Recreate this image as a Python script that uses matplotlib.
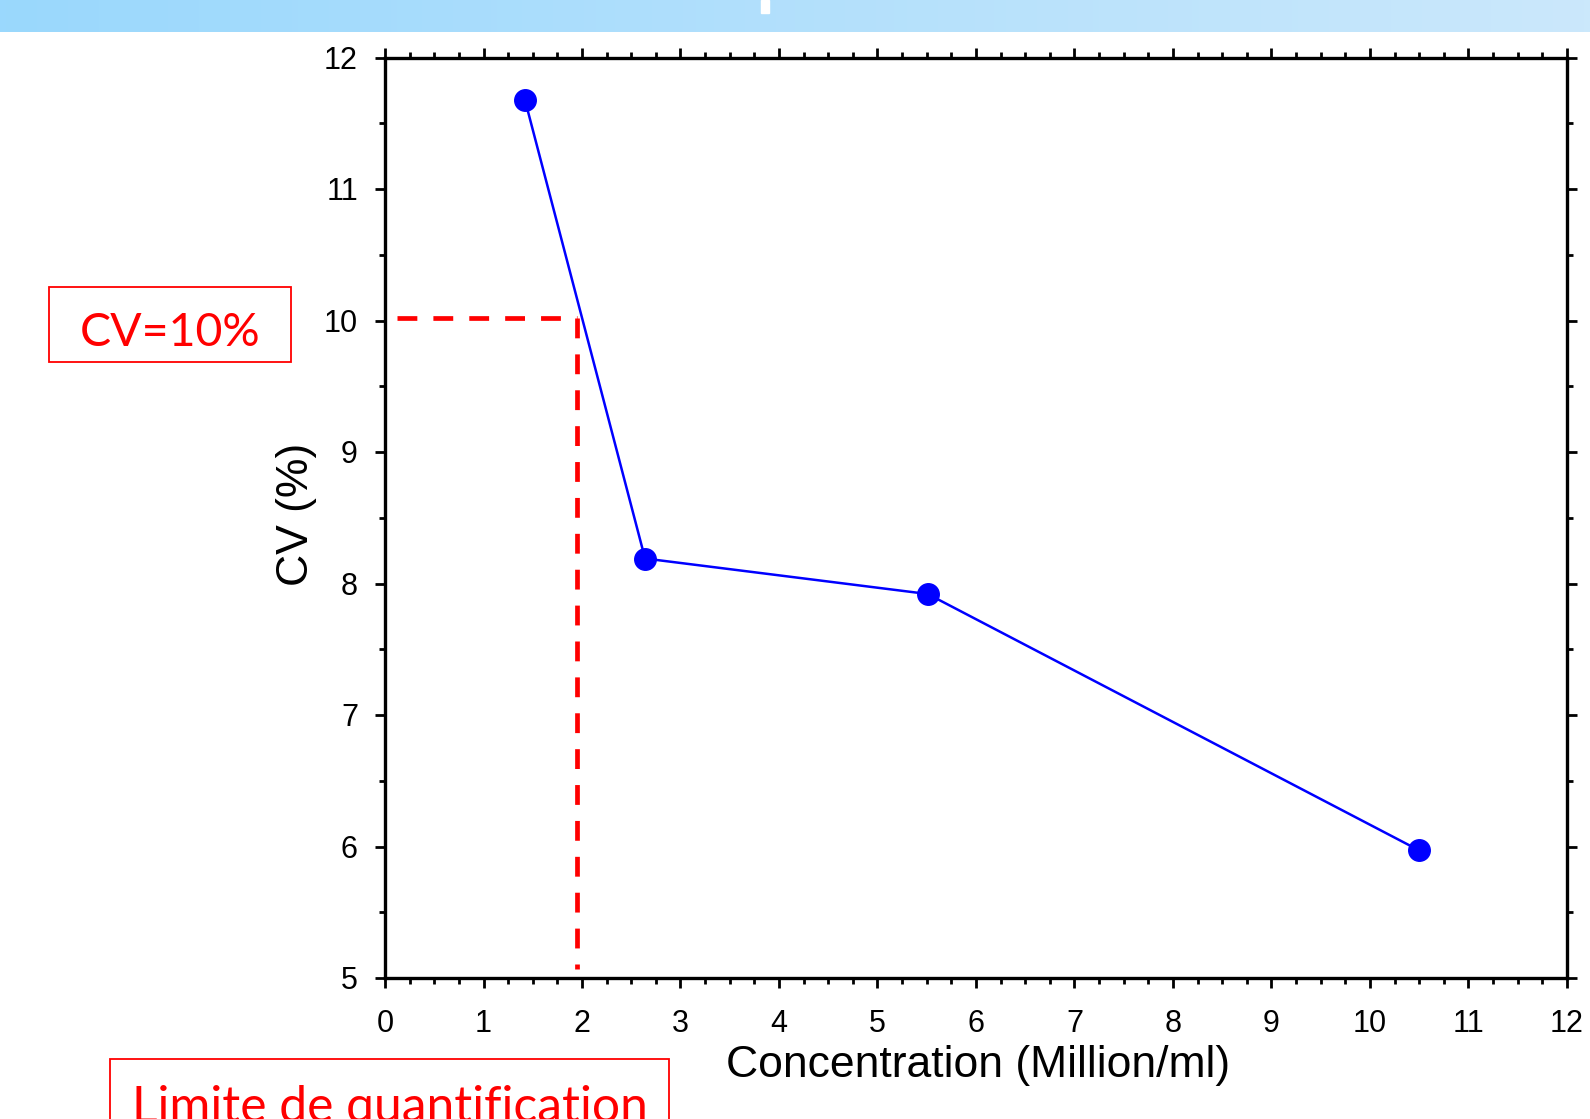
import matplotlib.pyplot as plt
import numpy as np
from matplotlib.ticker import MultipleLocator
from matplotlib.colors import LinearSegmentedColormap
from matplotlib.patches import Rectangle

# Données
concentration = [1.42, 2.64, 5.51, 10.50]
cv = [11.68, 8.19, 7.92, 5.97]

# Lignes de limite (CV = 10 %)
cv_limite = 10.02
conc_limite = 1.95

W, H = 1590, 1119
fig = plt.figure(figsize=(W / 100, H / 100), dpi=100)

# Bandeau dégradé en haut
band = fig.add_axes([0, 1 - 32.5 / H, 1, 32.5 / H])
grad = np.linspace(0, 1, 256).reshape(1, -1)
cmap = LinearSegmentedColormap.from_list("bande", ["#9ad8fd", "#cbe8fb"])
band.imshow(grad, aspect="auto", cmap=cmap, extent=[0, 1, 0, 1])
band.add_patch(Rectangle((761 / W, 0.6), 8 / W, 0.4, color="white"))
band.set_xlim(0, 1)
band.set_ylim(0, 1)
band.axis("off")

ax = fig.add_axes([385 / W, 1 - 978 / H, 1182 / W, 920.5 / H])

ax.plot(concentration, cv, color="blue", linewidth=1.8, marker="o",
        markersize=15.5, markerfacecolor="blue", markeredgecolor="blue", zorder=3)

ax.plot([0.12, conc_limite], [cv_limite, cv_limite], color="red", linewidth=3.4,
        linestyle=(0, (4.2, 3.4)))
ax.plot([conc_limite, conc_limite], [cv_limite, 5.07], color="red", linewidth=3.4,
        linestyle=(0, (4.2, 3.4)))

ax.set_xlim(0, 12)
ax.set_ylim(5, 12)
ax.xaxis.set_major_locator(MultipleLocator(1))
ax.xaxis.set_minor_locator(MultipleLocator(0.25))
ax.yaxis.set_major_locator(MultipleLocator(1))
ax.yaxis.set_minor_locator(MultipleLocator(0.5))

for s in ax.spines.values():
    s.set_linewidth(2.4)

ax.tick_params(which="both", direction="out", top=True, right=True,
               labeltop=False, labelright=False, width=2, labelsize=22,
               labelfontfamily="Liberation Sans")
ax.tick_params(which="major", length=7.5)
ax.tick_params(which="minor", length=4)
ax.tick_params(axis="x", which="major", pad=15)
ax.tick_params(axis="y", which="major", pad=12)

ax.set_xlabel("Concentration (Million/ml)", fontsize=32,
              fontfamily="Liberation Sans")
ax.set_ylabel("CV (%)", fontsize=32,
              fontfamily=["Liberation Sans Narrow", "Liberation Sans"])
ax.xaxis.label.set_va("center")
ax.yaxis.label.set_va("center")
ax.xaxis.set_label_coords(0.502, -0.0955)
ax.yaxis.set_label_coords(-0.0745, 0.5035)

# Étiquettes rouges encadrées
fig.patches.append(Rectangle((49 / W, 1 - 362 / H), 242 / W, 75 / H,
                             transform=fig.transFigure, fill=False,
                             edgecolor="red", linewidth=1.3))
fig.text(170 / W, 1 - 346 / H, "CV=10%", color="red", fontsize=33.5,
         fontfamily="Lato", ha="center", va="baseline")

fig.patches.append(Rectangle((109.5 / W, -0.05), 559.5 / W, 0.05 + 1 - 1059 / H,
                             transform=fig.transFigure, fill=False,
                             edgecolor="red", linewidth=1.3))
fig.text(390 / W, 1 - 1122 / H, "Limite de quantification", color="red",
         fontsize=35.8, fontfamily="Lato", ha="center", va="baseline")

plt.savefig("out.png", dpi=100)
